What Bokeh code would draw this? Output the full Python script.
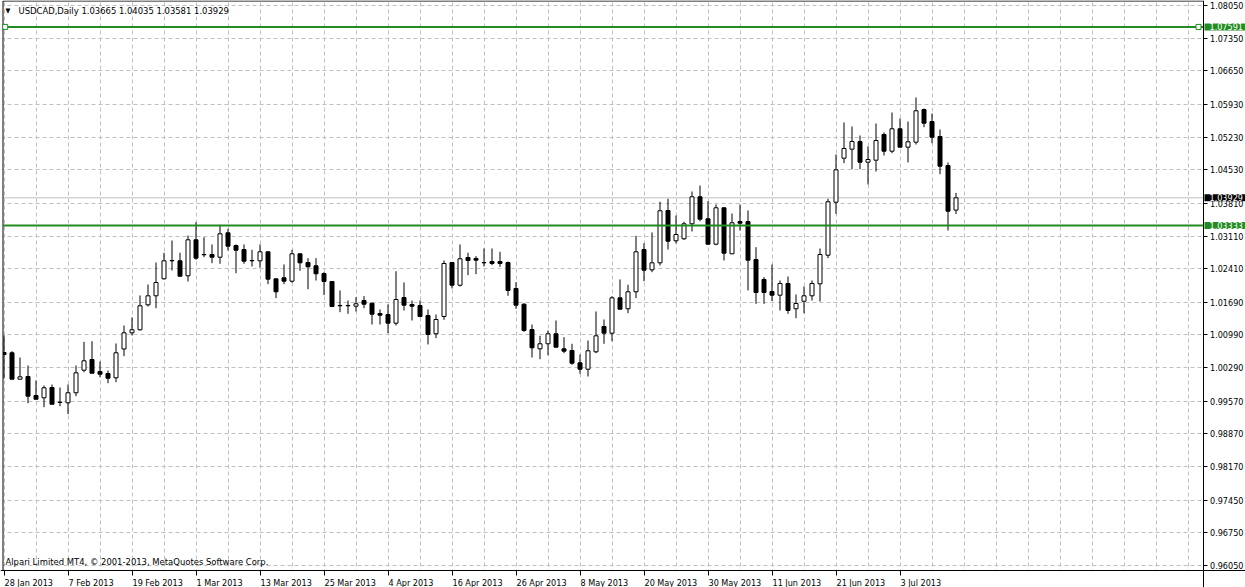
from bokeh.plotting import figure
from bokeh.models import (Range1d, FixedTicker, PrintfTickFormatter, CustomJSTickFormatter,
                          Label, ColumnDataSource)
from bokeh.embed import file_html
from bokeh.resources import INLINE

# ---------------- data ----------------
symbol_title = "USDCAD,Daily"
last_ohlc = "1.03665 1.04035 1.03581 1.03929"
copyright_text = "Alpari Limited MT4, \u00a9 2001-2013, MetaQuotes Software Corp."

opens = [1.00614, 1.00608, 1.00042, 1.00100, 0.99693, 0.99643, 0.99864, 0.99550, 0.99536, 0.99751,
         1.00235, 1.00464, 1.00207, 1.00164, 1.00072, 1.00689, 1.01036, 1.01101, 1.01636, 1.01829,
         1.02193, 1.02579, 1.02579, 1.02258, 1.03029, 1.02708, 1.02714, 1.02656, 1.03179, 1.02907,
         1.02821, 1.02586, 1.02579, 1.02772, 1.02193, 1.02215, 1.02142, 1.02729, 1.02543, 1.02472,
         1.02307, 1.02136, 1.01615, 1.01622, 1.01606, 1.01728, 1.01671, 1.01450, 1.01428, 1.01242,
         1.01793, 1.01643, 1.01621, 1.01407, 1.01015, 1.01386, 1.02543, 1.02056, 1.02650, 1.02629,
         1.02536, 1.02564, 1.02564, 1.02543, 1.01986, 1.01649, 1.01107, 1.00693, 1.00801, 1.01015,
         1.00693, 1.00657, 1.00393, 1.00256, 1.00629, 1.01171, 1.01028, 1.01786, 1.01551, 1.01915,
         1.02821, 1.02386, 1.02536, 1.03657, 1.03008, 1.03051, 1.03372, 1.03951, 1.03479, 1.02935,
         1.03715, 1.02729, 1.03421, 1.03421, 1.02607, 1.02179, 1.01921, 1.01842, 1.02093, 1.01551,
         1.01713, 1.01829, 1.02086, 1.02699, 1.03835, 1.04778, 1.04971, 1.05136, 1.04692, 1.04735,
         1.05286, 1.04928, 1.05408, 1.05014, 1.05121, 1.05821, 1.05564, 1.05243, 1.04621, 1.03665]
highs = [1.00978, 1.00642, 1.00507, 1.00336, 1.00014, 0.99907, 0.99928, 0.99864, 0.99928, 1.00336,
         1.00843, 1.00856, 1.00421, 1.00228, 1.00807, 1.01193, 1.01364, 1.01836, 1.02071, 1.02543,
         1.02751, 1.03014, 1.02751, 1.03121, 1.03406, 1.03085, 1.02929, 1.03351, 1.03265, 1.02929,
         1.02929, 1.02815, 1.02929, 1.02779, 1.02200, 1.02500, 1.02815, 1.02736, 1.02635, 1.02635,
         1.02335, 1.02143, 1.01943, 1.01728, 1.01799, 1.01821, 1.01678, 1.01536, 1.01643, 1.02356,
         1.02114, 1.01728, 1.01728, 1.01536, 1.01428, 1.02586, 1.02550, 1.02929, 1.02751, 1.02678,
         1.02843, 1.02843, 1.02772, 1.02564, 1.02121, 1.01671, 1.01214, 1.00972, 1.01086, 1.01300,
         1.00942, 1.00801, 1.00571, 1.00871, 1.01493, 1.01321, 1.01821, 1.02179, 1.02065, 1.03115,
         1.02956, 1.03186, 1.03844, 1.03908, 1.03550, 1.03415, 1.04064, 1.04193, 1.03856, 1.03786,
         1.03722, 1.03593, 1.03786, 1.03657, 1.02871, 1.02228, 1.02500, 1.02157, 1.02243, 1.01857,
         1.02028, 1.02157, 1.02843, 1.03908, 1.04857, 1.05543, 1.05457, 1.05264, 1.05029, 1.05521,
         1.05329, 1.05757, 1.05629, 1.05564, 1.06079, 1.05843, 1.05736, 1.05393, 1.04686, 1.04035]
lows = [1.00057, 1.00036, 1.00036, 0.99528, 0.99607, 0.99442, 0.99500, 0.99463, 0.99292, 0.99678,
        1.00192, 1.00165, 1.00085, 0.99956, 0.99978, 1.00535, 1.00978, 1.01086, 1.01600, 1.01563,
        1.02179, 1.02371, 1.02240, 1.02136, 1.02601, 1.02656, 1.02528, 1.02515, 1.02800, 1.02313,
        1.02515, 1.02457, 1.02429, 1.02078, 1.01778, 1.02078, 1.02108, 1.02365, 1.01971, 1.02157,
        1.01842, 1.01585, 1.01478, 1.01443, 1.01493, 1.01563, 1.01214, 1.01214, 1.01028, 1.01193,
        1.01514, 1.01300, 1.01371, 1.00786, 1.00921, 1.01315, 1.01986, 1.02028, 1.02271, 1.02292,
        1.02457, 1.02485, 1.02449, 1.01829, 1.01551, 1.01058, 1.00507, 1.00471, 1.00556, 1.00720,
        1.00599, 1.00351, 1.00158, 1.00100, 1.00599, 1.00801, 1.00856, 1.01535, 1.01456, 1.01778,
        1.02142, 1.02335, 1.02479, 1.02821, 1.02950, 1.03029, 1.03207, 1.03428, 1.02928, 1.02914,
        1.02586, 1.02722, 1.03229, 1.01943, 1.01658, 1.01658, 1.01713, 1.01514, 1.01443, 1.01349,
        1.01456, 1.01728, 1.01707, 1.02635, 1.03586, 1.04671, 1.04542, 1.04542, 1.04214, 1.04493,
        1.04836, 1.04885, 1.05007, 1.04686, 1.05071, 1.05442, 1.05099, 1.04435, 1.03229, 1.03581]
closes = [1.00571, 1.00042, 1.00093, 0.99678, 0.99613, 0.99858, 0.99506, 0.99543, 0.99751, 1.00179,
          1.00436, 1.00171, 1.00149, 1.00063, 1.00608, 1.01036, 1.01101, 1.01615, 1.01829, 1.02114,
          1.02579, 1.02586, 1.02249, 1.03029, 1.02635, 1.02715, 1.02656, 1.03158, 1.02892, 1.02806,
          1.02571, 1.02579, 1.02772, 1.02185, 1.01915, 1.02142, 1.02729, 1.02536, 1.02451, 1.02301,
          1.02136, 1.01600, 1.01622, 1.01615, 1.01658, 1.01649, 1.01435, 1.01413, 1.01242, 1.01750,
          1.01628, 1.01606, 1.01386, 1.01000, 1.01321, 1.02521, 1.02056, 1.02622, 1.02586, 1.02592,
          1.02543, 1.02521, 1.02521, 1.01943, 1.01628, 1.01086, 1.00715, 1.00801, 1.01015, 1.00728,
          1.00642, 1.00385, 1.00256, 1.00651, 1.00972, 1.01028, 1.01786, 1.01542, 1.01915, 1.02772,
          1.02378, 1.02536, 1.03651, 1.02999, 1.03143, 1.03372, 1.03951, 1.03471, 1.02935, 1.03715,
          1.02742, 1.03394, 1.03385, 1.02592, 1.01900, 1.01900, 1.01842, 1.02093, 1.01514, 1.01664,
          1.01829, 1.02093, 1.02714, 1.03844, 1.04529, 1.04986, 1.05136, 1.04692, 1.04750, 1.05157,
          1.04928, 1.05408, 1.05014, 1.05129, 1.05794, 1.05528, 1.05228, 1.04606, 1.03642, 1.03929]

date_tick_index = [0, 8, 16, 24, 32, 40, 48, 56, 64, 72, 80, 88, 96, 104, 112]
date_tick_labels = ["28 Jan 2013", "7 Feb 2013", "19 Feb 2013", "1 Mar 2013", "13 Mar 2013",
                    "25 Mar 2013", "4 Apr 2013", "16 Apr 2013", "26 Apr 2013", "8 May 2013",
                    "20 May 2013", "30 May 2013", "11 Jun 2013", "21 Jun 2013", "3 Jul 2013"]
price_ticks = [1.08050, 1.07350, 1.06650, 1.05930, 1.05230, 1.04530, 1.03810, 1.03110, 1.02410,
               1.01690, 1.00990, 1.00290, 0.99570, 0.98870, 0.98170, 0.97450, 0.96750, 0.96050]
level_lines = [1.07591, 1.03333]
bid_price = 1.03929

# ---------------- styling ----------------
FONT = "DejaVu Sans Condensed, DejaVu Sans"
FS = "9px"
FS2 = "9.4px"
GREEN = "#228B22"
GRID = "#c0c0c0"

n = len(opens)
xs = list(range(n))
top = [max(o, c) for o, c in zip(opens, closes)]
bot = [min(o, c) for o, c in zip(opens, closes)]
fill = ["white" if c >= o else "black" for o, c in zip(opens, closes)]
src = ColumnDataSource(dict(x=xs, o=opens, h=highs, l=lows, c=closes, top=top, bot=bot, fill=fill))

# pixel geometry: candle i centred at 3.5 + 8*i px; price p at 5 + (1.0805 - p)/0.00021429 px
PX_PER_BAR = 8.0
X0PX = 3.5
UNIT = 0.00021429
W, H = 1245, 587
CHART_L, CHART_R, CHART_T, CHART_B = 2.5, 1202.5, 0.5, 569.5


def xdata(px):
    return (px - X0PX) / PX_PER_BAR


def ydata(py):
    return 1.0805 - (py - 5) * UNIT


p = figure(width=W, height=H, output_backend="svg", toolbar_location=None,
           x_range=Range1d(xdata(0), xdata(W)), y_range=Range1d(ydata(H), ydata(0)),
           y_axis_location="right", min_border=0, min_border_left=0, min_border_right=0,
           min_border_top=0, min_border_bottom=0)
p.background_fill_color = "white"
p.border_fill_color = "white"
p.outline_line_color = None

# axes drawn at the chart edges
p.xaxis.fixed_location = ydata(CHART_B)
p.xaxis.ticker = FixedTicker(ticks=date_tick_index)
p.xaxis.formatter = CustomJSTickFormatter(code="return ''")
p.xaxis.major_tick_out = 5
p.xaxis.major_tick_in = 0
p.xaxis.minor_tick_out = 0
p.xaxis.minor_tick_in = 0
p.xaxis.axis_line_color = "black"
p.xaxis.major_tick_line_color = "black"

p.yaxis.fixed_location = xdata(CHART_R)
p.yaxis.ticker = FixedTicker(ticks=price_ticks)
p.yaxis.formatter = PrintfTickFormatter(format="%.5f")
p.yaxis.major_tick_out = 4
p.yaxis.major_tick_in = 0
p.yaxis.minor_tick_out = 0
p.yaxis.minor_tick_in = 0
p.yaxis.major_label_standoff = 3
p.yaxis.major_label_text_font = FONT
p.yaxis.major_label_text_font_size = FS
p.yaxis.major_label_text_color = "black"
p.yaxis.axis_line_color = "black"

# grids
p.xgrid.ticker = FixedTicker(ticks=list(range(0, 150, 4)))
p.grid.grid_line_color = GRID
p.grid.grid_line_dash = "4 3"
p.grid.grid_line_width = 1

# white margins (axis areas) over the grid
p.quad(left=[xdata(CHART_R), xdata(0)], right=[xdata(W), xdata(W)],
       bottom=[ydata(H), ydata(H)], top=[ydata(0), ydata(CHART_B)],
       fill_color="white", line_color=None)

# bid line
p.segment(x0=[xdata(CHART_L)], x1=[xdata(CHART_R)], y0=[bid_price], y1=[bid_price],
          line_color=GRID, line_width=1)

# candles
p.segment(x0="x", y0="l", x1="x", y1="h", line_color="black", line_width=1, source=src)
p.vbar(x="x", width=0.5, top="top", bottom="bot", fill_color="fill", line_color="black",
       line_width=1, source=src)

# left margin cover and chart border
p.quad(left=[xdata(0)], right=[xdata(CHART_L)], bottom=[ydata(CHART_B)], top=[ydata(0)],
       fill_color="white", line_color=None)
p.segment(x0=[xdata(CHART_L), xdata(CHART_L)], x1=[xdata(CHART_L), xdata(CHART_R)],
          y0=[ydata(CHART_T), ydata(CHART_T)], y1=[ydata(CHART_B), ydata(CHART_T)],
          line_color="black", line_width=1)

# horizontal levels
p.segment(x0=[xdata(CHART_L)] * 2, x1=[xdata(CHART_R)] * 2, y0=level_lines, y1=level_lines,
          line_color=GREEN, line_width=2)
p.scatter(x=[xdata(4.7), xdata(1198)], y=[level_lines[0], level_lines[0]], marker="square",
          size=5, fill_color="white", line_color=GREEN, line_width=1)

# price tags on the axis
for txt, val, bg in [("%.5f" % level_lines[0], level_lines[0], GREEN),
                     ("%.5f" % level_lines[1], level_lines[1], GREEN),
                     ("%.5f" % bid_price, bid_price, "black")]:
    p.add_layout(Label(x=xdata(1204), y=val, text=txt, text_align="left", text_baseline="middle",
                       text_font=FONT, text_font_size=FS, text_color="white",
                       background_fill_color=bg, background_fill_alpha=1.0,
                       padding=dict(left=5, right=2, top=0, bottom=0)))

# date labels under the axis
for i, lab in zip(date_tick_index, date_tick_labels):
    p.add_layout(Label(x=i + 0.06, y=ydata(582), text=lab, text_align="left",
                       text_baseline="alphabetic", text_font=FONT, text_font_size=FS,
                       text_color="black"))

# title and copyright
p.add_layout(Label(x=xdata(5), y=ydata(10), text="\u25bc", text_align="left", text_baseline="middle",
                   text_font=FONT, text_font_size="7px", text_color="black"))
p.add_layout(Label(x=xdata(18), y=ydata(9.5), text=symbol_title + "  " + last_ohlc, text_align="left",
                   text_baseline="middle", text_font=FONT, text_font_size=FS2, text_color="black"))
p.add_layout(Label(x=xdata(5), y=ydata(561), text=copyright_text, text_align="left",
                   text_baseline="middle", text_font=FONT, text_font_size=FS2, text_color="black"))

open("out.html", "w").write(file_html(p, INLINE))
